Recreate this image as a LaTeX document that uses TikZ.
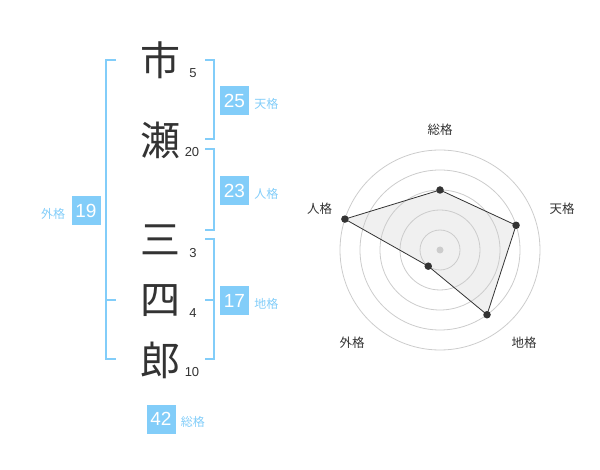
\documentclass[tikz,border=0pt]{standalone}
\usepackage{fontspec}
\setmainfont{Liberation Sans}
\newfontfamily\jp{Noto Sans CJK JP}
\usetikzlibrary{positioning}
\definecolor{skyblue}{HTML}{82CDF9}
\definecolor{ink}{HTML}{333333}
\definecolor{ringgray}{HTML}{CCCCCC}
\definecolor{areagray}{HTML}{F0F0F0}
\newcommand*{\fsz}[1]{\fontsize{#1}{#1}\selectfont}

\begin{document}
\begin{tikzpicture}[x=1pt,y=-1pt,
    kanji/.style={inner sep=0pt,text=ink,font=\jp\fsz{40}},
    strokes/.style={inner sep=0pt,text=ink,font=\fsz{13}},
    score/.style={fill=skyblue,text=white,minimum size=29pt,inner sep=0pt,font=\fsz{19}},
    kaku/.style={inner sep=0pt,text=skyblue,font=\jp\fsz{12}},
    axislabel/.style={inner sep=0pt,text=ink,font=\jp\fsz{12.5}},
    brace/.style={draw=skyblue,line width=2pt},
    ring/.style={draw=ringgray,line width=0.8pt},
    dot/.style={circle,fill=ink,inner sep=0pt,minimum size=7.5pt}]
  \useasboundingbox (0,0) rectangle (600,470);
  % the name, one character per line
  \node[kanji] (k1) at (160,60)  {市};
  \node[kanji] (k2) at (160,140) {瀬};
  \node[kanji] (k3) at (160,240) {三};
  \node[kanji] (k4) at (160,301) {四};
  \node[kanji] (k5) at (160,360) {郎};
  \node[strokes] (s1) at (193,73)  {5};
  \node[strokes] (s2) at (192,152) {20};
  \node[strokes] (s3) at (193,253) {3};
  \node[strokes] (s4) at (193,313) {4};
  \node[strokes] (s5) at (192,372) {10};
  % brackets
  \draw[brace] (116,60) -- (106,60) -- (106,359) -- (116,359) (106,300) -- (116,300);
  \draw[brace] (205,60) -- (214,60) -- (214,139) -- (205,139);
  \draw[brace] (205,149) -- (214,149) -- (214,230) -- (205,230);
  \draw[brace] (205,239) -- (214,239) -- (214,359) -- (205,359) (205,300) -- (214,300);
  % scores
  \node[score] (ten)  at (234.5,100.5) {25};
  \node[score] (jin)  at (234.5,190.5) {23};
  \node[score] (chi)  at (234.5,300.5) {17};
  \node[score] (gai)  at (86,210.5)    {19};
  \node[score] (sou)  at (161,419)     {42};
  \node[kaku,right=5pt of ten,yshift=-3pt] (tenl) {天格};
  \node[kaku,right=5pt of jin,yshift=-3pt] (jinl) {人格};
  \node[kaku,right=5pt of chi,yshift=-3pt] (chil) {地格};
  \node[kaku,left=6pt of gai,yshift=-3pt]  (gail) {外格};
  \node[kaku,right=5pt of sou,yshift=-3pt] (soul) {総格};
  % radar chart
  \begin{scope}[shift={(440,250)},y=1pt]
    \foreach \n/\a/\r in {1/90/60,2/18/80,3/-54/80,4/-126/20,5/162/100}
      \coordinate (p\n) at (\a:\r);
    \fill[areagray] (p1) -- (p2) -- (p3) -- (p4) -- (p5) -- cycle;
    \foreach \r in {20,40,...,100}
      \draw[ring] (0,0) circle[radius=\r pt];
    \node[circle,fill=ringgray,inner sep=0pt,minimum size=7pt] (o) at (0,0) {};
    \draw[ink,line width=0.8pt] (p1) -- (p2) -- (p3) -- (p4) -- (p5) -- cycle;
    \foreach \n in {1,...,5}
      \node[dot] (d\n) at (p\n) {};
    \node[axislabel] (a1) at (0,120)       {総格};
    \node[axislabel] (a2) at (122,41.5)    {天格};
    \node[axislabel] (a3) at (84,-92.5)    {地格};
    \node[axislabel] (a4) at (-88,-92.5)   {外格};
    \node[axislabel] (a5) at (-120.5,41.5) {人格};
  \end{scope}
\end{tikzpicture}
\end{document}
